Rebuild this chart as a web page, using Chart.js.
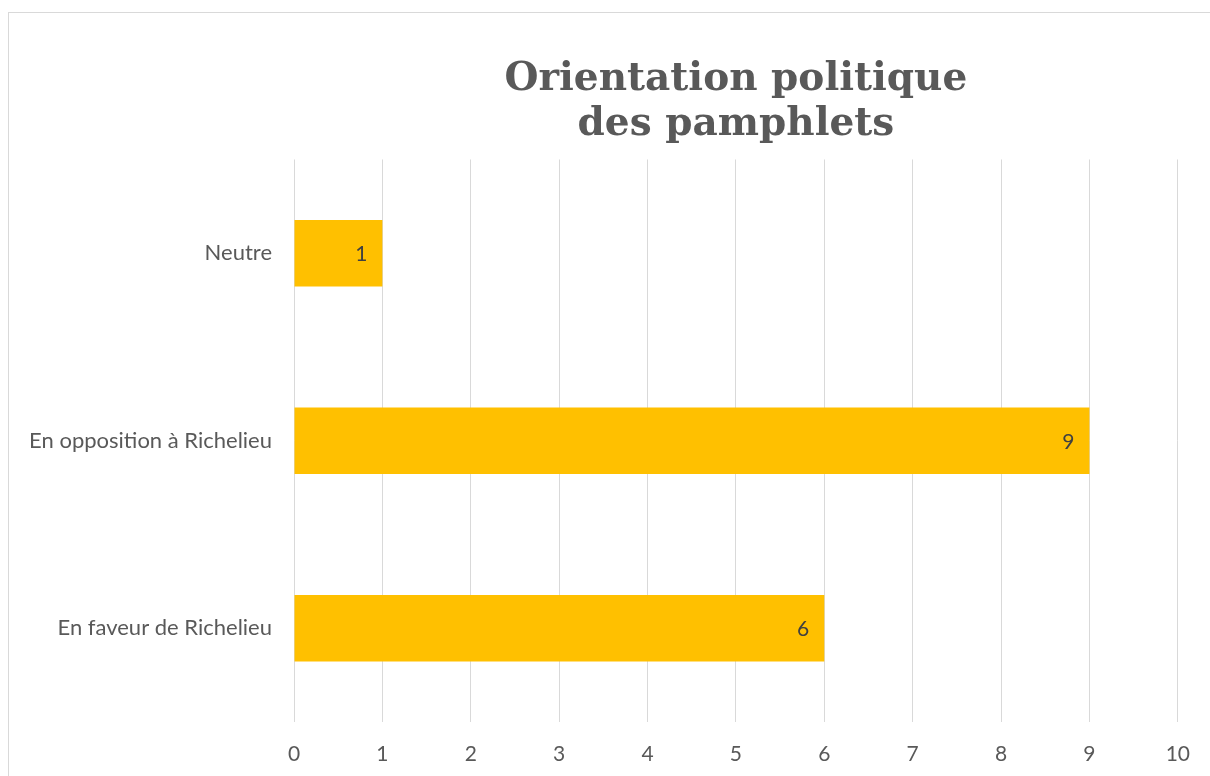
<!DOCTYPE html>
<html>
<head>
<meta charset="utf-8">
<script src="https://cdn.jsdelivr.net/npm/chart.js@4.4.1/dist/chart.umd.min.js"></script>
<style>
  html, body { margin: 0; padding: 0; background: #fff; overflow: hidden; }
  #frame { position: absolute; left: 8px; top: 12px; width: 1300px; height: 900px; border: 1px solid #d9d9d9; }
  #chart { position: absolute; left: 0; top: 0; }
</style>
</head>
<body>
<div id="frame"></div>
<canvas id="chart" width="1210" height="776"></canvas>
<script>
const categories = ['Neutre', 'En opposition à Richelieu', 'En faveur de Richelieu']
const counts = [1, 9, 6]
const axisMin = 0
const axisMax = 10
const titleLines = ['Orientation politique', 'des pamphlets']

const categoryFont = { family: 'Lato', size: 22 }
const tickFont = { family: 'Lato', size: 21 }

// draws the value near the end of each bar (like Excel "inside end")
const barValues = {
    id: 'barValues',
    afterDatasetsDraw(chart) {
        const ctx = chart.ctx
        const meta = chart.getDatasetMeta(0)
        ctx.save()
        ctx.font = `${tickFont.size}px ${tickFont.family}`
        ctx.fillStyle = '#404040'
        ctx.textAlign = 'right'
        ctx.textBaseline = 'middle'
        meta.data.forEach((bar, i) => {
            ctx.fillText(String(counts[i]), bar.x - 15, bar.y + 1)
        })
        ctx.restore()
    }
}

new Chart(document.getElementById('chart'), {
    type: 'bar',
    data: {
        labels: categories,
        datasets: [{
            data: counts,
            backgroundColor: '#FFC000',
            borderWidth: 0,
            categoryPercentage: 1,
            barPercentage: 0.355
        }]
    },
    options: {
        indexAxis: 'y',
        responsive: false,
        animation: false,
        devicePixelRatio: 1,
        layout: { padding: { left: 0, right: 31, top: 0, bottom: 0 } },
        scales: {
            x: {
                min: axisMin,
                max: axisMax,
                ticks: { stepSize: 1, color: '#595959', font: tickFont, padding: 20 },
                grid: { color: '#d9d9d9', lineWidth: 1, drawTicks: false },
                border: { display: false },
                afterFit: (scale) => { scale.height = 54 }
            },
            y: {
                ticks: { color: '#595959', font: categoryFont, padding: 14 },
                grid: { display: false },
                border: { display: false },
                afterFit: (scale) => { scale.width = 294 }
            }
        },
        plugins: {
            legend: { display: false },
            tooltip: { enabled: false },
            title: {
                display: true,
                text: titleLines,
                fullSize: false,
                color: '#595959',
                font: { family: 'DejaVu Serif', weight: 'bold', size: 39, lineHeight: 1.16 },
                padding: { top: 57, bottom: 12 }
            }
        }
    },
    plugins: [barValues]
})
</script>
</body>
</html>
